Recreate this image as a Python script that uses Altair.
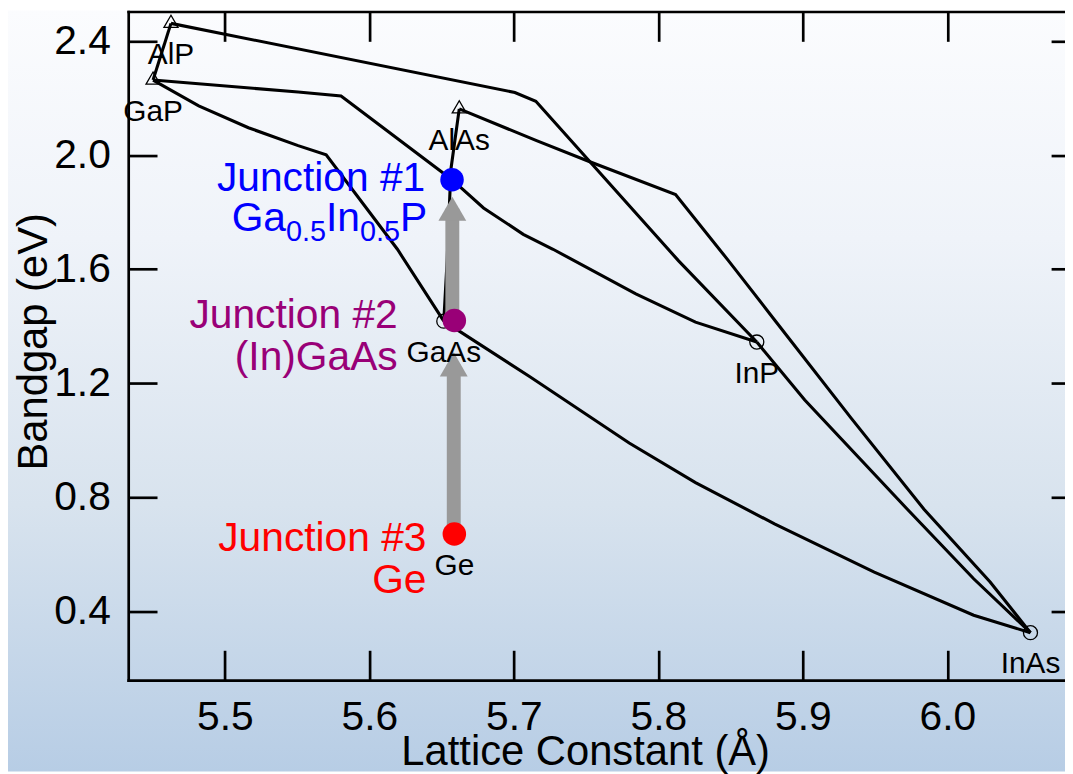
import altair as alt
import pandas as pd

FONT = "Liberation Sans"

# ---------------- axes ----------------
x_domain = [5.4331, 6.0814]
y_domain = [0.1584, 2.5046]
x_ticks = [5.5, 5.6, 5.7, 5.8, 5.9, 6.0]
y_ticks = [0.4, 0.8, 1.2, 1.6, 2.0, 2.4]

# ---------------- binary compounds ----------------
compounds = ["AlP", "GaP", "AlAs", "GaAs", "InP", "InAs", "Ge"]
comp_a = [5.4627, 5.4503, 5.6622, 5.6515, 5.8681, 6.0575, 5.6588]
comp_eg = [2.463, 2.264, 2.163, 1.418, 1.3448, 0.3247, 0.6709]
comp_marker = ["triangle", "triangle", "triangle", "circle", "circle", "circle", "none"]

# ---------------- ternary curves ----------------
alGaP_a = [5.4627, 5.4503]
alGaP_eg = [2.463, 2.264]
alInP_a = [5.4627, 5.7007, 5.7152, 5.8140, 5.8681]
alInP_eg = [2.463, 2.2205, 2.1898, 1.6296, 1.3448]
inAsP_a = [5.8681, 5.9013, 5.9723, 6.0182, 6.0575]
inAsP_eg = [1.3448, 1.1415, 0.7580, 0.5140, 0.3247]
alInAs_a = [5.6622, 5.7157, 5.7521, 5.8119, 5.8486, 5.8807, 5.9334, 5.9838, 6.0296, 6.0575]
alInAs_eg = [2.163, 2.0514, 1.9782, 1.8621, 1.6296, 1.4204, 1.0777, 0.7580, 0.5025, 0.3247]
alGaAs_a = [5.6622, 5.6565, 5.6555, 5.6538, 5.6515]
alGaAs_eg = [2.163, 1.9538, 1.8387, 1.6296, 1.418]
gaInP_a = [5.4503, 5.5507, 5.5804, 5.6572, 5.6790, 5.7065, 5.7271, 5.7844, 5.8257, 5.8681]
gaInP_eg = [2.264, 2.2222, 2.2083, 1.9144, 1.8154, 1.7226, 1.6703, 1.5135, 1.4145, 1.3448]
gaAsP_a = [5.4503, 5.4819, 5.5163, 5.5507, 5.5701, 5.6194, 5.6515]
gaAsP_eg = [2.264, 2.1734, 2.0967, 2.0340, 2.0015, 1.6703, 1.418]
gaInAs_a = [5.6515, 5.7111, 5.7798, 5.8257, 5.8807, 5.9494, 6.0182, 6.0575]
gaInAs_eg = [1.418, 1.2227, 0.9905, 0.8511, 0.7057, 0.5374, 0.3861, 0.3247]

# ---------------- junctions ----------------
junction_names = ["Junction #1", "Junction #2", "Junction #3"]
junction_a = [5.6572, 5.6588, 5.6588]
junction_eg = [1.9144, 1.4204, 0.6709]
junction_colors = ["#0000ff", "#990077", "#ff0000"]

# ---------------- arrows ----------------
arrow_a = [5.6584, 5.6574]
arrow_from = [0.6709, 1.4204]
arrow_head = [1.2663, 1.8126]

# ================= tables =================
curves = {
    "AlGaP": (alGaP_a, alGaP_eg),
    "AlInP": (alInP_a, alInP_eg),
    "InAsP": (inAsP_a, inAsP_eg),
    "AlInAs": (alInAs_a, alInAs_eg),
    "AlGaAs": (alGaAs_a, alGaAs_eg),
    "GaInP": (gaInP_a, gaInP_eg),
    "GaAsP": (gaAsP_a, gaAsP_eg),
    "GaInAs": (gaInAs_a, gaInAs_eg),
}
rows = []
for name, (aa, ee) in curves.items():
    for i, (a, e) in enumerate(zip(aa, ee)):
        rows.append({"series": name, "idx": i, "a": a, "eg": e})
lines_df = pd.DataFrame(rows)

comp_df = pd.DataFrame({"name": compounds, "a": comp_a, "eg": comp_eg, "marker": comp_marker})
junc_df = pd.DataFrame({"name": junction_names, "a": junction_a, "eg": junction_eg,
                        "color": junction_colors})
arrow_df = pd.DataFrame({"a": arrow_a, "y0": arrow_from, "y1": arrow_head})

XS = alt.Scale(domain=x_domain, nice=False, zero=False)
YS = alt.Scale(domain=y_domain, nice=False, zero=False)


def X(field, axis=None):
    return alt.X(f"{field}:Q", scale=XS, axis=axis)


def Y(field, axis=None):
    return alt.Y(f"{field}:Q", scale=YS, axis=axis)


common = dict(grid=False, zindex=1, domainColor="black", domainWidth=2.7, domainCap="square",
              tickColor="black", tickWidth=2.7, labelFont=FONT, labelColor="black",
              titleFont=FONT, titleColor="black", titleFontWeight="normal")

ax_bottom = alt.Axis(orient="bottom", values=x_ticks, format=".1f", ticks=False, tickSize=0,
                     domain=True, labelFontSize=41, labelPadding=50, labelBaseline="alphabetic",
                     labelFlush=False, labelOverlap=False,
                     title="Lattice Constant (Å)", titleFontSize=42, titleX=460, titleY=85,
                     titleBaseline="alphabetic", titleAlign="center", **common)
ax_left = alt.Axis(orient="left", values=y_ticks, format=".1f", ticks=False, tickSize=0,
                   domain=True, labelFontSize=41, labelPadding=18, labelAlign="right",
                   labelBaseline="middle", labelOverlap=False,
                   title="Bandgap (eV)", titleFontSize=42, titleX=-82, titleY=332,
                   titleAngle=270, titleBaseline="alphabetic", titleAlign="center", **common)
ax_top_line = alt.Axis(orient="top", values=x_ticks, ticks=False, labels=False, domain=True,
                       title=None, **common)


def tick_axis(orient, values, size):
    return alt.Axis(orient=orient, values=values, domain=False, labels=False, ticks=True,
                    tickSize=size, offset=-size, title=None, **common)


ax_bottom_ticks = tick_axis("bottom", x_ticks, 30)
ax_top_ticks = tick_axis("top", x_ticks, 30)
ax_left_ticks = tick_axis("left", y_ticks, 29)
ax_right_ticks = tick_axis("right", y_ticks, 14)

gradient = {
    "gradient": "linear", "x1": 0, "x2": 0, "y1": 0, "y2": 1,
    "stops": [
        {"offset": 0, "color": "#fbfcfe"},
        {"offset": 0.3, "color": "#eff3f9"},
        {"offset": 0.65, "color": "#d8e3ee"},
        {"offset": 1, "color": "#b7cde5"},
    ],
}

W, H = 943, 673
PAD = {"left": 121, "top": 1, "right": 0, "bottom": 92}

bg = alt.Chart(pd.DataFrame({"v": [0]})).mark_rect(fill=gradient).encode(
    x=alt.value(-PAD["left"]), x2=alt.value(W + PAD["right"]),
    y=alt.value(-PAD["top"]), y2=alt.value(H + PAD["bottom"]))

lines = alt.Chart(lines_df).mark_line(color="black", strokeWidth=3.1).encode(
    x=X("a", ax_bottom), y=Y("eg", ax_left), detail="series:N", order="idx:Q")

shafts = alt.Chart(arrow_df).mark_rule(color="#999999", strokeWidth=14).encode(
    x=X("a", ax_top_line), y=Y("y0", ax_right_ticks), y2="y1:Q")

heads = alt.Chart(arrow_df).mark_point(shape="triangle-up", filled=True, size=784,
                                       color="#999999", opacity=1).encode(
    x=X("a", ax_bottom_ticks), y=Y("y1", ax_left_ticks))

tri = alt.Chart(comp_df[comp_df.marker == "triangle"]).mark_point(
    shape="triangle-up", size=200, filled=False, color="black", strokeWidth=1.3,
    opacity=1, yOffset=-2).encode(x=X("a", ax_top_ticks), y=Y("eg"))

circ = alt.Chart(comp_df[comp_df.marker == "circle"]).mark_point(
    shape="circle", size=200, filled=False, color="black", strokeWidth=1.3,
    opacity=1).encode(x=X("a"), y=Y("eg"))

comp_labels = alt.Chart(comp_df).mark_text(
    font=FONT, fontSize=30, color="black", align="center", baseline="alphabetic",
    dy=41).encode(x=X("a"), y=Y("eg"), text="name:N")

dots = alt.Chart(junc_df).mark_point(shape="circle", filled=True, size=560, opacity=1).encode(
    x=X("a"), y=Y("eg"), color=alt.Color("color:N", scale=None))

# junction label pieces: (junction index, text, font size, dx, dy)
label_layout = [
    (0, "Junction #1", 41, -27, 11),
    (0, "P", 41, -25, 52),
    (0, "0.5", 29, -52.35, 62),
    (0, "In", 41, -92.65, 52),
    (0, "0.5", 29, -126.85, 62),
    (0, "Ga", 41, -167.15, 52),
    (1, "Junction #2", 41, -57, 8),
    (1, "(In)GaAs", 41, -57, 50),
    (2, "Junction #3", 41, -28, 17),
    (2, "Ge", 41, -28, 59),
]
junc_labels = []
for j, txt, fs, dx, dy in label_layout:
    d = pd.DataFrame({"a": [junction_a[j]], "eg": [junction_eg[j]], "t": [txt]})
    junc_labels.append(
        alt.Chart(d).mark_text(font=FONT, fontSize=fs, color=junction_colors[j], align="right",
                               baseline="alphabetic", dx=dx, dy=dy).encode(
            x=X("a"), y=Y("eg"), text="t:N"))

chart = alt.layer(bg, lines, shafts, heads, tri, circ, comp_labels, dots, *junc_labels).resolve_axis(
    x="independent", y="independent"
).properties(
    width=W, height=H, autosize=alt.AutoSizeParams(type="none"), padding=PAD
).configure_view(stroke=None)

chart.save("out.html", embed_options={"renderer": "svg", "actions": False})
